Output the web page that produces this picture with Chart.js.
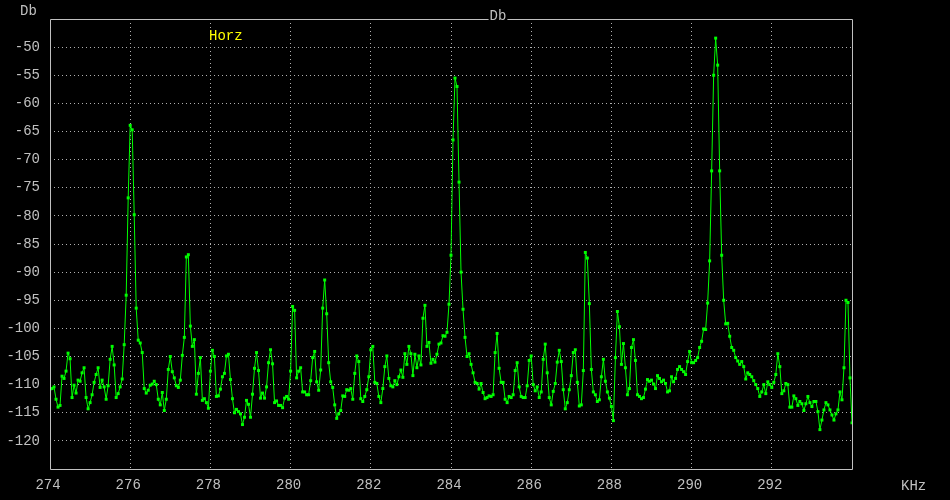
<!DOCTYPE html>
<html>
<head>
<meta charset="utf-8">
<script src="https://cdn.jsdelivr.net/npm/chart.js@4/dist/chart.umd.min.js"></script>
<style>
  html, body { margin: 0; padding: 0; background: #000; }
  #wrap { width: 950px; height: 500px; }
</style>
</head>
<body>
<div id="wrap"><canvas id="c" width="950" height="500"></canvas></div>
<script>
// ---- data ----
const freqKHz = [
274.00,274.05,274.10,274.15,274.20,274.25,274.30,274.35,274.40,274.45,274.50,274.55,274.60,274.65,274.70,274.75,274.80,274.85,274.90,274.95,
275.00,275.05,275.10,275.15,275.20,275.25,275.30,275.35,275.40,275.45,275.50,275.55,275.60,275.65,275.70,275.75,275.80,275.85,275.90,275.95,
276.00,276.05,276.10,276.15,276.20,276.25,276.30,276.35,276.40,276.45,276.50,276.55,276.60,276.65,276.70,276.75,276.80,276.85,276.90,276.95,
277.00,277.05,277.10,277.15,277.20,277.25,277.30,277.35,277.40,277.45,277.50,277.55,277.60,277.65,277.70,277.75,277.80,277.85,277.90,277.95,
278.00,278.05,278.10,278.15,278.20,278.25,278.30,278.35,278.40,278.45,278.50,278.55,278.60,278.65,278.70,278.75,278.80,278.85,278.90,278.95,
279.00,279.05,279.10,279.15,279.20,279.25,279.30,279.35,279.40,279.45,279.50,279.55,279.60,279.65,279.70,279.75,279.80,279.85,279.90,279.95,
280.00,280.05,280.10,280.15,280.20,280.25,280.30,280.35,280.40,280.45,280.50,280.55,280.60,280.65,280.70,280.75,280.80,280.85,280.90,280.95,
281.00,281.05,281.10,281.15,281.20,281.25,281.30,281.35,281.40,281.45,281.50,281.55,281.60,281.65,281.70,281.75,281.80,281.85,281.90,281.95,
282.00,282.05,282.10,282.15,282.20,282.25,282.30,282.35,282.40,282.45,282.50,282.55,282.60,282.65,282.70,282.75,282.80,282.85,282.90,282.95,
283.00,283.05,283.10,283.15,283.20,283.25,283.30,283.35,283.40,283.45,283.50,283.55,283.60,283.65,283.70,283.75,283.80,283.85,283.90,283.95,
284.00,284.05,284.10,284.15,284.20,284.25,284.30,284.35,284.40,284.45,284.50,284.55,284.60,284.65,284.70,284.75,284.80,284.85,284.90,284.95,
285.00,285.05,285.10,285.15,285.20,285.25,285.30,285.35,285.40,285.45,285.50,285.55,285.60,285.65,285.70,285.75,285.80,285.85,285.90,285.95,
286.00,286.05,286.10,286.15,286.20,286.25,286.30,286.35,286.40,286.45,286.50,286.55,286.60,286.65,286.70,286.75,286.80,286.85,286.90,286.95,
287.00,287.05,287.10,287.15,287.20,287.25,287.30,287.35,287.40,287.45,287.50,287.55,287.60,287.65,287.70,287.75,287.80,287.85,287.90,287.95,
288.00,288.05,288.10,288.15,288.20,288.25,288.30,288.35,288.40,288.45,288.50,288.55,288.60,288.65,288.70,288.75,288.80,288.85,288.90,288.95,
289.00,289.05,289.10,289.15,289.20,289.25,289.30,289.35,289.40,289.45,289.50,289.55,289.60,289.65,289.70,289.75,289.80,289.85,289.90,289.95,
290.00,290.05,290.10,290.15,290.20,290.25,290.30,290.35,290.40,290.45,290.50,290.55,290.60,290.65,290.70,290.75,290.80,290.85,290.90,290.95,
291.00,291.05,291.10,291.15,291.20,291.25,291.30,291.35,291.40,291.45,291.50,291.55,291.60,291.65,291.70,291.75,291.80,291.85,291.90,291.95,
292.00,292.05,292.10,292.15,292.20,292.25,292.30,292.35,292.40,292.45,292.50,292.55,292.60,292.65,292.70,292.75,292.80,292.85,292.90,292.95,
293.00,293.05,293.10,293.15,293.20,293.25,293.30,293.35,293.40,293.45,293.50,293.55,293.60,293.65,293.70,293.75,293.80,293.85,293.90,293.95,
294.00
];

const levelDb = [
-110.8,-110.7,-110.4,-112.6,-114.0,-113.7,-108.5,-108.9,-107.6,-104.4,-105.4,-112.3,-110.1,-111.5,-109.2,-109.4,-107.9,-107.0,-112.3,-114.3,
-113.2,-111.8,-109.6,-108.2,-107.0,-110.5,-109.2,-110.4,-112.6,-110.2,-105.5,-103.2,-106.5,-112.3,-111.6,-110.4,-109.0,-102.9,-94.1,-76.8,
-63.9,-64.7,-79.8,-96.4,-102.1,-102.6,-104.3,-110.7,-111.5,-111.0,-110.1,-109.9,-109.4,-110.0,-112.6,-113.6,-111.4,-114.6,-112.6,-107.3,
-105.0,-107.7,-108.8,-110.2,-110.5,-109.2,-104.8,-101.6,-87.3,-86.9,-99.6,-103.2,-102.0,-111.7,-108.0,-105.2,-112.8,-112.5,-113.2,-114.2,
-107.6,-103.9,-105.0,-112.1,-112.0,-110.8,-108.6,-108.0,-104.9,-104.6,-109.1,-112.5,-115.0,-114.4,-114.8,-115.2,-117.1,-115.8,-112.8,-113.5,
-115.8,-111.7,-107.1,-104.3,-107.5,-112.4,-111.5,-112.4,-110.4,-106.1,-103.8,-106.3,-113.2,-112.9,-113.7,-113.7,-114.1,-112.4,-112.1,-112.6,
-107.6,-96.1,-96.8,-108.8,-107.6,-107.0,-111.3,-111.3,-111.8,-111.8,-109.3,-105.2,-104.1,-109.5,-111.0,-107.4,-96.4,-91.4,-97.4,-106.1,
-109.5,-110.5,-113.6,-116.0,-115.2,-114.6,-112.0,-112.1,-110.9,-111.0,-110.7,-112.6,-108.0,-104.9,-105.9,-112.5,-113.0,-112.1,-110.9,-108.6,
-103.8,-103.2,-109.6,-109.8,-112.1,-113.2,-110.7,-106.8,-104.9,-108.9,-110.2,-110.4,-109.3,-110.0,-108.6,-107.4,-108.7,-104.5,-106.4,-103.2,
-104.5,-108.4,-104.6,-107.0,-104.9,-106.5,-98.2,-95.9,-103.2,-102.5,-106.2,-105.5,-106.0,-104.6,-102.8,-102.6,-101.3,-101.4,-100.7,-95.7,
-87.0,-66.5,-55.5,-57.0,-74.0,-90.0,-96.6,-101.6,-105.0,-104.5,-106.4,-107.9,-109.6,-109.8,-110.8,-109.8,-111.4,-112.5,-112.3,-112.0,
-112.1,-111.8,-104.3,-100.9,-107.1,-109.6,-109.6,-112.6,-113.2,-112.1,-112.3,-111.8,-107.5,-106.1,-110.4,-112.1,-112.3,-112.3,-110.2,-105.7,
-104.9,-110.0,-111.1,-110.4,-112.3,-111.3,-105.5,-102.8,-107.9,-112.3,-113.6,-111.2,-109.8,-106.0,-103.9,-105.9,-110.9,-114.3,-113.2,-110.9,
-108.4,-104.3,-103.8,-109.6,-113.8,-113.6,-107.5,-86.5,-87.5,-95.6,-107.3,-111.3,-111.8,-113.0,-112.7,-108.6,-105.5,-109.4,-111.3,-112.4,
-113.9,-116.4,-105.2,-97.0,-99.7,-106.4,-102.7,-107.0,-111.8,-110.7,-103.4,-102.0,-105.7,-111.8,-112.1,-112.5,-112.3,-110.8,-109.1,-109.4,
-109.2,-109.9,-110.7,-108.4,-108.9,-109.5,-109.2,-109.8,-111.3,-111.1,-108.6,-109.5,-108.9,-107.3,-106.8,-107.3,-107.7,-108.2,-105.9,-104.1,
-106.1,-106.1,-105.7,-105.2,-103.4,-102.3,-100.1,-100.2,-95.5,-88.0,-72.0,-55.0,-48.4,-53.2,-72.0,-87.0,-95.0,-99.2,-99.1,-101.4,
-103.4,-103.9,-105.2,-105.8,-106.4,-105.9,-106.8,-109.0,-107.9,-108.2,-108.6,-109.3,-110.0,-110.7,-112.1,-111.3,-110.0,-111.6,-109.5,-110.0,
-110.5,-109.6,-108.2,-104.5,-106.8,-111.6,-111.1,-109.8,-110.0,-114.0,-114.0,-112.0,-112.5,-113.7,-113.0,-113.4,-114.6,-113.4,-112.1,-113.2,
-113.9,-113.0,-113.0,-114.8,-118.0,-116.3,-114.5,-113.2,-113.6,-114.5,-115.4,-116.3,-115.2,-114.5,-111.3,-112.7,-107.0,-95.0,-95.4,-108.8,
-116.8
];

const xTickValues = [274, 276, 278, 280, 282, 284, 286, 288, 290, 292];
const yTickValues = [-50, -55, -60, -65, -70, -75, -80, -85, -90, -95, -100, -105, -110, -115, -120];
const xRange = [274, 294];
const yRange = [-125, -45];
const titleText = 'Db';
const yUnitText = 'Db';
const xUnitText = 'KHz';
const seriesLabel = 'Horz';

// ---- chart ----
const FONT = '"Liberation Mono", "DejaVu Sans Mono", monospace';
const GRAY = '#c0c0c0';
const GREEN = '#00ff00';

const points = freqKHz.map((f, i) => ({ x: f, y: levelDb[i] }));

const decor = {
  id: 'decor',
  beforeDraw(chart) {
    const ctx = chart.ctx;
    ctx.save();
    ctx.fillStyle = '#000';
    ctx.fillRect(0, 0, chart.width, chart.height);
    ctx.restore();
  },
  afterDraw(chart) {
    const { ctx, chartArea: a } = chart;
    ctx.save();
    ctx.font = '14px ' + FONT;
    const l = Math.round(a.left) + 0.5, r = Math.round(a.right) + 0.5;
    const t = Math.round(a.top) + 0.5, b = Math.round(a.bottom) + 0.5;
    const tx = 498;
    const tw = ctx.measureText(titleText).width;
    ctx.strokeStyle = GRAY;
    ctx.lineWidth = 1;
    ctx.beginPath();
    ctx.moveTo(l, t); ctx.lineTo(tx - tw / 2 - 1, t);
    ctx.moveTo(tx + tw / 2 + 1, t); ctx.lineTo(r, t);
    ctx.lineTo(r, b); ctx.lineTo(l, b); ctx.lineTo(l, t);
    ctx.stroke();
    ctx.fillStyle = GRAY;
    ctx.textBaseline = 'alphabetic';
    ctx.textAlign = 'center';
    ctx.fillText(titleText, tx, 20);
    ctx.textAlign = 'left';
    ctx.fillText(yUnitText, 20, 15);
    ctx.fillText(xUnitText, 901, 490);
    ctx.fillStyle = '#ffff00';
    ctx.fillText(seriesLabel, 209, 40);
    ctx.restore();
  }
};

new Chart(document.getElementById('c'), {
  type: 'line',
  data: {
    datasets: [{
      label: seriesLabel,
      data: points,
      borderColor: GREEN,
      borderWidth: 1,
      backgroundColor: GREEN,
      pointStyle: 'rect',
      pointRadius: 2.1,
      pointBorderWidth: 0,
      pointBackgroundColor: GREEN,
      tension: 0,
      fill: false
    }]
  },
  options: {
    responsive: false,
    animation: false,
    events: [],
    layout: { padding: { top: 19, right: 98, left: 0, bottom: 0 } },
    plugins: {
      legend: { display: false },
      title: { display: false },
      tooltip: { enabled: false }
    },
    scales: {
      x: {
        type: 'linear',
        min: xRange[0],
        max: xRange[1],
        afterFit(s) { s.height = 31; },
        afterBuildTicks(s) { s.ticks = xTickValues.map(v => ({ value: v })); },
        ticks: {
          color: GRAY,
          font: { family: FONT, size: 14 },
          padding: 8,
          labelOffset: -2,
          maxRotation: 0,
          autoSkip: false,
          callback: v => String(v)
        },
        grid: {
          color: v => (v.tick && v.tick.value === xRange[0]) ? 'rgba(0,0,0,0)' : '#b0b0b0',
          lineWidth: 1,
          drawTicks: false
        },
        border: { display: false, dash: [1, 3] }
      },
      y: {
        type: 'linear',
        min: yRange[0],
        max: yRange[1],
        afterFit(s) { s.width = 50; },
        afterBuildTicks(s) { s.ticks = yTickValues.map(v => ({ value: v })); },
        ticks: {
          color: GRAY,
          font: { family: FONT, size: 14 },
          padding: 10,
          autoSkip: false,
          callback: v => String(v)
        },
        grid: { color: '#b0b0b0', lineWidth: 1, drawTicks: false },
        border: { display: false, dash: [1, 3] }
      }
    }
  },
  plugins: [decor]
});
</script>
</body>
</html>
